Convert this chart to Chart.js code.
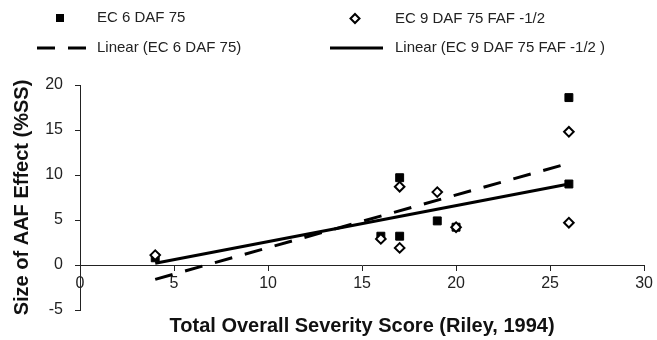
<!DOCTYPE html>
<html>
<head>
<meta charset="utf-8">
<script src="https://cdn.jsdelivr.net/npm/chart.js@4.4.1/dist/chart.umd.min.js"></script>
<style>
  html, body { margin: 0; padding: 0; background: #fff; }
</style>
</head>
<body>
<canvas id="aafChart" width="657" height="340"></canvas>
<script>
/* values */
var ec6X = [4, 16, 17, 17, 19, 20, 26, 26];
var ec6Y = [0.8, 3.2, 9.7, 3.2, 4.9, 4.2, 18.6, 9.0];
var ec9X = [4, 16, 17, 17, 19, 20, 26, 26];
var ec9Y = [1.1, 2.9, 8.7, 1.9, 8.1, 4.2, 14.8, 4.7];
var fitX  = [4, 26];
var fit6Y = [-1.6, 11.3];
var fit9Y = [0.2, 9.0];
var seriesLabels = ['EC 6 DAF 75', 'EC 9 DAF 75 FAF -1/2', 'Linear (EC 6 DAF 75)', 'Linear (EC 9 DAF 75 FAF -1/2 )'];
var xTitle = 'Total Overall Severity Score (Riley, 1994)';
var yTitle = 'Size of AAF Effect (%SS)';

var FONT = '"Liberation Sans", Arial, sans-serif';
var INK = '#111';

function pts(xs, ys) {
  return xs.map(function (x, i) { return { x: x, y: ys[i] }; });
}

/* legend + axis titles drawn onto the canvas */
var decor = {
  id: 'decor',
  afterDraw: function (chart) {
    var ctx = chart.ctx;
    var ds = chart.data.datasets;
    ctx.save();
    ctx.font = '15px ' + FONT;
    ctx.textBaseline = 'middle';
    ctx.textAlign = 'left';

    // row 1: markers
    ctx.fillStyle = '#000';
    ctx.fillRect(56, 14, 8, 8);
    ctx.beginPath();
    ctx.moveTo(355, 14); ctx.lineTo(359.5, 18.5); ctx.lineTo(355, 23); ctx.lineTo(350.5, 18.5); ctx.closePath();
    ctx.fillStyle = '#fff'; ctx.fill();
    ctx.lineWidth = 2; ctx.strokeStyle = '#000'; ctx.stroke();

    // row 2: lines
    ctx.lineWidth = 3;
    ctx.setLineDash([18, 13]);
    ctx.beginPath(); ctx.moveTo(37, 48); ctx.lineTo(87, 48); ctx.stroke();
    ctx.setLineDash([]);
    ctx.beginPath(); ctx.moveTo(330, 48); ctx.lineTo(383, 48); ctx.stroke();

    ctx.fillStyle = '#222';
    ctx.fillText(ds[0].label, 97, 18);
    ctx.fillText(ds[1].label, 395, 19);
    ctx.fillText(ds[2].label, 97, 48);
    ctx.fillText(ds[3].label, 395, 48);

    // axis titles
    var area = chart.chartArea;
    ctx.fillStyle = INK;
    ctx.font = 'bold 20px ' + FONT;
    ctx.textAlign = 'center';
    ctx.fillText(xTitle, (area.left + area.right) / 2, 326);
    ctx.translate(22, (area.top + area.bottom) / 2);
    ctx.rotate(-Math.PI / 2);
    ctx.fillText(yTitle, 0, 0);
    ctx.restore();
  }
};

new Chart(document.getElementById('aafChart'), {
  type: 'scatter',
  data: {
    datasets: [
      {
        label: seriesLabels[0],
        data: pts(ec6X, ec6Y),
        pointStyle: 'rect',
        pointRadius: 5.6,
        backgroundColor: '#000',
        borderColor: '#000',
        borderWidth: 1,
        order: 1
      },
      {
        label: seriesLabels[1],
        data: pts(ec9X, ec9Y),
        pointStyle: 'rectRot',
        pointRadius: 4.8,
        backgroundColor: '#fff',
        borderColor: '#000',
        borderWidth: 2,
        order: 0
      },
      {
        label: seriesLabels[2],
        data: pts(fitX, fit6Y),
        type: 'line',
        showLine: true,
        pointRadius: 0,
        borderColor: '#000',
        borderWidth: 3,
        borderDash: [18, 13],
        fill: false,
        order: 2
      },
      {
        label: seriesLabels[3],
        data: pts(fitX, fit9Y),
        type: 'line',
        showLine: true,
        pointRadius: 0,
        borderColor: '#000',
        borderWidth: 3,
        fill: false,
        order: 2
      }
    ]
  },
  options: {
    responsive: false,
    animation: false,
    layout: { padding: { left: 0, right: 11, top: 85, bottom: 30 } },
    plugins: { legend: { display: false }, tooltip: { enabled: false } },
    scales: {
      x: {
        type: 'linear',
        position: { y: 0 },
        min: 0, max: 30,
        ticks: { stepSize: 5, color: '#222', font: { family: FONT, size: 16 }, padding: 4 },
        grid: { drawOnChartArea: false, drawTicks: true, tickLength: 5, color: '#222' },
        border: { display: true, color: '#222', width: 1 }
      },
      y: {
        type: 'linear',
        position: 'left',
        min: -5, max: 20,
        afterFit: function (scale) { scale.width = 80; },
        ticks: { stepSize: 5, color: '#222', font: { family: FONT, size: 16 }, padding: 12 },
        grid: { drawOnChartArea: false, drawTicks: true, tickLength: 5, color: '#222' },
        border: { display: true, color: '#222', width: 1 }
      }
    }
  },
  plugins: [decor]
});
</script>
</body>
</html>
